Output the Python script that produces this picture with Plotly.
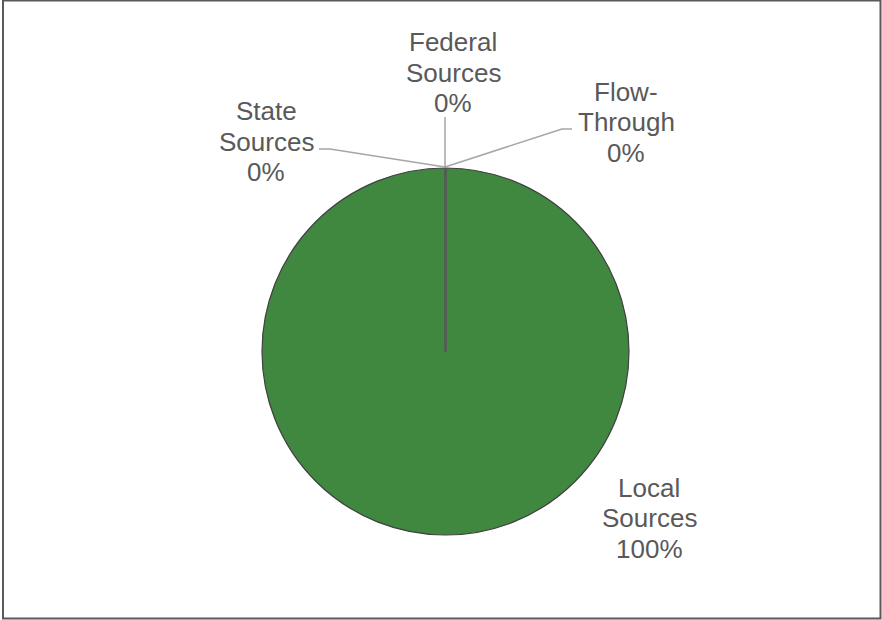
import plotly.graph_objects as go

# Revenue sources (share of total, percent)
categories = ["Local Sources", "State Sources", "Federal Sources", "Flow-Through"]
display_labels = ["Local<br>Sources", "State<br>Sources", "Federal<br>Sources", "Flow-<br>Through"]
values = [100, 0, 0, 0]
colors = ["#40873F", "#4472C4", "#A5A5A5", "#FFC000"]

W, H = 882, 620
total = sum(values)
pcts = [round(v / total * 100) for v in values]

# pie geometry in pixels
cx, cy, r = 445.5, 351.5, 183.5
LINE_GAP = 30.5


def px(x):
    return x / W


def py(y):
    return 1 - y / H


fig = go.Figure()
fig.add_trace(go.Pie(
    labels=categories,
    values=values,
    sort=False,
    direction="clockwise",
    rotation=0,
    textinfo="none",
    hoverinfo="label+percent",
    marker=dict(colors=colors, line=dict(color="#404040", width=1.2)),
    domain=dict(x=[px(cx - r), px(cx + r)], y=[py(cy + r), py(cy - r)]),
    showlegend=False,
))

# label placement (center of text block) and leader line paths
label_pos = {
    "Local Sources": (649, 518),
    "State Sources": (266, 141.5),
    "Federal Sources": (453, 72.5),
    "Flow-Through": (626, 122),
}
leaders = {
    "State Sources": [(445, 167), (330, 149), (319, 149)],
    "Federal Sources": [(445, 167), (445, 117)],
    "Flow-Through": [(445, 167), (562, 129), (572, 129)],
}

annotations = []
for cat, lab, p in zip(categories, display_labels, pcts):
    x, y = label_pos[cat]
    lines = f"{lab}<br>{p}%".split("<br>")
    n = len(lines)
    for i, line in enumerate(lines):
        ly = y + (i - (n - 1) / 2) * LINE_GAP
        annotations.append(dict(
            x=px(x), y=py(ly), xref="paper", yref="paper",
            text=line, showarrow=False,
            font=dict(family="Liberation Sans, Arial", size=26, color="#595959"),
            align="center", xanchor="center", yanchor="middle",
        ))

shapes = []
for cat, pts in leaders.items():
    path = "M " + " L ".join(f"{px(x)},{py(y)}" for x, y in pts)
    shapes.append(dict(type="path", path=path, xref="paper", yref="paper",
                       line=dict(color="#A6A6A6", width=1.5)))

# slice boundary from the center to 12 o'clock
shapes.append(dict(type="line", xref="paper", yref="paper",
                   x0=px(cx), y0=py(cy), x1=px(cx), y1=py(cy - r),
                   line=dict(color="#595959", width=2.5)))

# chart frame
shapes.append(dict(type="rect", xref="paper", yref="paper",
                   x0=px(3), x1=px(880.5), y0=py(618.5), y1=py(0.5),
                   line=dict(color="#595959", width=2)))

fig.update_layout(
    width=W, height=H,
    margin=dict(l=0, r=0, t=0, b=0),
    paper_bgcolor="white",
    plot_bgcolor="white",
    annotations=annotations,
    shapes=shapes,
)

fig.write_html("out.html")
